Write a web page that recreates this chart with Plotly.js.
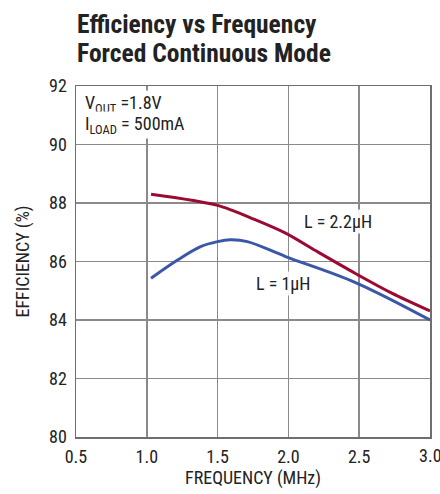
<!DOCTYPE html>
<html>
<head>
<meta charset="utf-8">
<script src="https://cdn.plot.ly/plotly-3.0.1.min.js"></script>
<style>html,body{margin:0;padding:0;background:#fff;}#chart{width:440px;height:494px;}</style>
</head>
<body>
<div id="chart"></div>
<script>
var freq22 = [1.03, 1.5, 1.76, 1.98, 2.21, 2.47, 2.73, 3.0];
var eff22 = [88.30, 87.92, 87.44, 86.97, 86.32, 85.60, 84.92, 84.31];
var freq1 = [1.03, 1.22, 1.38, 1.5, 1.59, 1.71, 1.98, 2.47, 3.0];
var eff1 = [85.43, 86.06, 86.51, 86.68, 86.74, 86.68, 86.17, 85.29, 84.0];
var xTicks = [0.5, 1.0, 1.5, 2.0, 2.5, 3.0];
var xTickLabels = ["0.5", "1.0", "1.5", "2.0", "2.5", "3.0"];
var yTicks = [80, 82, 84, 86, 88, 90, 92];

var FONT = "'Roboto Condensed', 'Liberation Sans', sans-serif";
var TXT = '#222';

// plot area in pixels: left 76, right 430, top 86, bottom 437
var PT = 86, PB = 437, PL = 76, PR = 430;
function py(p) { return (PB - p) / (PB - PT); }
function px(p) { return (p - PL) / (PR - PL); }

var traces = [
  {x: freq22, y: eff22, mode: 'lines', line: {color: '#9b0a33', width: 3, shape: 'spline', smoothing: 0.8}, hoverinfo: 'skip'},
  {x: freq1, y: eff1, mode: 'lines', line: {color: '#3a57a8', width: 3, shape: 'spline'}, hoverinfo: 'skip'}
];

var layout = {
  width: 440, height: 494,
  margin: {l: PL, r: 440 - PR, t: PT, b: 494 - PB},
  paper_bgcolor: '#fff', plot_bgcolor: '#fff',
  showlegend: false,
  font: {family: FONT, color: TXT, size: 18},
  xaxis: {
    range: [0.5, 3.0], tickvals: xTicks, ticktext: xTickLabels,
    showgrid: true, gridcolor: '#8a8a8a', gridwidth: 1.5,
    showline: true, linecolor: '#6e6e6e', linewidth: 1.5, mirror: true,
    zeroline: false, ticks: '', ticklen: 0, ticklabelstandoff: 3,
    tickfont: {family: FONT, size: 18, color: TXT},
    title: {text: 'FREQUENCY (MHz)', font: {family: FONT, size: 18, color: TXT}, standoff: 5}
  },
  yaxis: {
    range: [80, 92], tickvals: yTicks,
    showgrid: true, gridcolor: '#8a8a8a', gridwidth: 1.5,
    showline: true, linecolor: '#6e6e6e', linewidth: 1.5, mirror: true,
    zeroline: false, ticks: '', ticklen: 0, ticklabelstandoff: 4,
    tickfont: {family: FONT, size: 18, color: TXT},
    title: {text: 'EFFICIENCY (%)', font: {family: FONT, size: 18, color: TXT}, standoff: 15}
  },
  annotations: [
    {text: '<b>Efficiency vs Frequency</b>', xref: 'paper', yref: 'paper',
     x: px(75), y: py(24), xanchor: 'left', yanchor: 'middle', showarrow: false,
     font: {family: FONT, size: 25.5, color: TXT}},
    {text: '<b>Forced Continuous Mode</b>', xref: 'paper', yref: 'paper',
     x: px(75), y: py(53), xanchor: 'left', yanchor: 'middle', showarrow: false,
     font: {family: FONT, size: 25.5, color: TXT}},
    {text: 'V<sub>OUT</sub> =1.8V', xref: 'paper', yref: 'paper',
     x: px(83), y: py(104), xanchor: 'left', yanchor: 'middle', showarrow: false,
     font: {family: FONT, size: 18, color: TXT}, bgcolor: '#fff'},
    {text: 'I<sub>LOAD</sub> = 500mA', xref: 'paper', yref: 'paper',
     x: px(83), y: py(125), xanchor: 'left', yanchor: 'middle', showarrow: false,
     font: {family: FONT, size: 18, color: TXT}, bgcolor: '#fff'},
    {text: 'L = 2.2μH', x: 2.35, y: 87.36, xanchor: 'center', yanchor: 'middle', showarrow: false,
     font: {family: FONT, size: 18, color: TXT}, bgcolor: 'rgba(255,255,255,0.9)'},
    {text: 'L = 1μH', x: 1.96, y: 85.24, xanchor: 'center', yanchor: 'middle', showarrow: false,
     font: {family: FONT, size: 18, color: TXT}, bgcolor: 'rgba(255,255,255,0.9)'},
    // last tick label, which Plotly drops because it runs past the page edge (the reference shows it cut)
    {text: xTickLabels[5], x: xTicks[5], xref: 'x', yref: 'paper', y: py(455), xanchor: 'center', yanchor: 'middle',
     showarrow: false, font: {family: FONT, size: 18, color: TXT}}
  ]
};

Plotly.newPlot('chart', traces, layout, {staticPlot: true, displayModeBar: false});
</script>
</body>
</html>
